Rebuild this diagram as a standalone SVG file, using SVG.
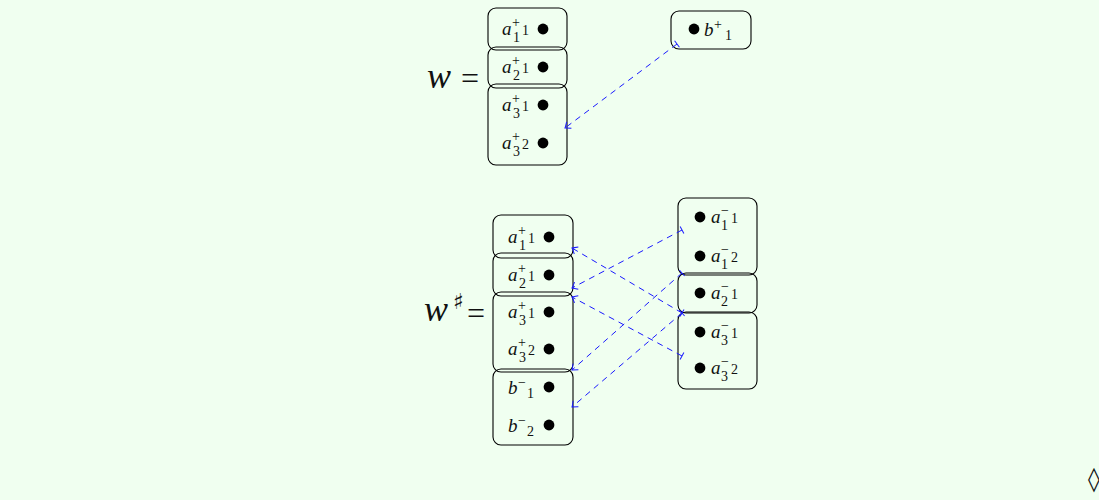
<svg xmlns="http://www.w3.org/2000/svg" width="1099" height="500" viewBox="0 0 1099 500">
<style>
.bg{fill:#F0FFF0}
.box{fill:none;stroke:#000;stroke-width:1.1}
.m{font-family:"Liberation Serif",serif;font-style:italic;font-size:19px;fill:#111}
.s{font-family:"Liberation Serif",serif;font-size:14px;fill:#111}
.big{font-family:"Liberation Serif",serif;font-style:italic;font-size:36px;fill:#111}
.eq{font-family:"Liberation Serif",serif;font-size:32px;fill:#111}
.sh{font-family:"DejaVu Serif",serif;font-size:22px;fill:#111}
.dot{fill:#000}
.cn{fill:none;stroke:#1a1aff;stroke-width:1;stroke-dasharray:6 5}
.mk{fill:none;stroke:#1a1aff;stroke-width:1}
</style>
<defs>
<marker id="head" markerUnits="userSpaceOnUse" markerWidth="12" markerHeight="12" refX="0" refY="0" viewBox="-6 -6 12 12" orient="auto" overflow="visible">
<path class="mk" d="M-5,-4 Q-1.5,-1 0,0 Q-1.5,1 -5,4"/>
</marker>
<marker id="tee" markerUnits="userSpaceOnUse" markerWidth="12" markerHeight="12" refX="0" refY="0" viewBox="-6 -6 12 12" orient="auto" overflow="visible">
<path class="mk" d="M0,-4 L0,4"/>
</marker>
</defs>
<rect class="bg" x="0" y="0" width="1099" height="500"/>

<g id="w-label">
<text class="big" x="427" y="88">w</text>
<text class="eq" x="461" y="89">=</text>
</g>

<g id="top-a1">
<rect class="box" x="488" y="8" width="79" height="42" rx="8"/>
<text class="m" x="502" y="35">a</text><text class="s" x="512" y="27">+</text><text class="s" x="513" y="42">1</text><text class="s" x="522" y="35">1</text>
<circle class="dot" cx="543" cy="29" r="5.4"/>
</g>
<g id="top-a2">
<rect class="box" x="488" y="47" width="79" height="41" rx="8"/>
<text class="m" x="502" y="73">a</text><text class="s" x="512" y="65">+</text><text class="s" x="513" y="80">2</text><text class="s" x="522" y="73">1</text>
<circle class="dot" cx="543" cy="67" r="5.4"/>
</g>
<g id="top-a3">
<rect class="box" x="488" y="84" width="79" height="81" rx="8"/>
<text class="m" x="502" y="111">a</text><text class="s" x="512" y="103">+</text><text class="s" x="513" y="118">3</text><text class="s" x="522" y="111">1</text>
<circle class="dot" cx="543" cy="105" r="5.4"/>
<text class="m" x="502" y="149">a</text><text class="s" x="512" y="141">+</text><text class="s" x="513" y="156">3</text><text class="s" x="522" y="149">2</text>
<circle class="dot" cx="543" cy="143" r="5.4"/>
</g>
<g id="top-b">
<rect class="box" x="671" y="11" width="80" height="38" rx="8"/>
<circle class="dot" cx="694" cy="29" r="5.4"/>
<text class="m" x="704" y="36">b</text><text class="s" x="714" y="29">+</text><text class="s" x="725" y="40">1</text>
</g>

<g id="wsharp-label">
<text class="big" x="424" y="321">w</text>
<text class="sh" x="453" y="309">♯</text>
<text class="eq" x="467" y="324">=</text>
</g>

<g id="bot-a1">
<rect class="box" x="493" y="215" width="80" height="43" rx="8"/>
<text class="m" x="508" y="243">a</text><text class="s" x="518" y="235">+</text><text class="s" x="519" y="250">1</text><text class="s" x="528" y="243">1</text>
<circle class="dot" cx="549" cy="237" r="5.4"/>
</g>
<g id="bot-a2">
<rect class="box" x="493" y="253" width="80" height="43" rx="8"/>
<text class="m" x="508" y="281">a</text><text class="s" x="518" y="273">+</text><text class="s" x="519" y="288">2</text><text class="s" x="528" y="281">1</text>
<circle class="dot" cx="549" cy="275" r="5.4"/>
</g>
<g id="bot-a3">
<rect class="box" x="493" y="292" width="80" height="80" rx="8"/>
<text class="m" x="508" y="318">a</text><text class="s" x="518" y="310">+</text><text class="s" x="519" y="325">3</text><text class="s" x="528" y="318">1</text>
<circle class="dot" cx="549" cy="312" r="5.4"/>
<text class="m" x="508" y="355">a</text><text class="s" x="518" y="347">+</text><text class="s" x="519" y="362">3</text><text class="s" x="528" y="355">2</text>
<circle class="dot" cx="549" cy="349" r="5.4"/>
</g>
<g id="bot-b">
<rect class="box" x="493" y="369" width="80" height="76" rx="8"/>
<text class="m" x="508" y="394">b</text><text class="s" x="518" y="387">−</text><text class="s" x="527" y="398">1</text>
<circle class="dot" cx="549" cy="387" r="5.4"/>
<text class="m" x="508" y="432">b</text><text class="s" x="518" y="425">−</text><text class="s" x="527" y="436">2</text>
<circle class="dot" cx="549" cy="425" r="5.4"/>
</g>

<g id="bot-am1">
<rect class="box" x="678" y="198" width="79" height="77" rx="8"/>
<circle class="dot" cx="700" cy="217" r="5.4"/>
<text class="m" x="711" y="223">a</text><text class="s" x="721" y="215">−</text><text class="s" x="721" y="230">1</text><text class="s" x="731" y="223">1</text>
<circle class="dot" cx="700" cy="256" r="5.4"/>
<text class="m" x="711" y="262">a</text><text class="s" x="721" y="254">−</text><text class="s" x="721" y="269">1</text><text class="s" x="731" y="262">2</text>
</g>
<g id="bot-am2">
<rect class="box" x="678" y="273" width="79" height="40" rx="8"/>
<circle class="dot" cx="700" cy="293" r="5.4"/>
<text class="m" x="711" y="299">a</text><text class="s" x="721" y="291">−</text><text class="s" x="721" y="306">2</text><text class="s" x="731" y="299">1</text>
</g>
<g id="bot-am3">
<rect class="box" x="678" y="312" width="79" height="77" rx="8"/>
<circle class="dot" cx="700" cy="332" r="5.4"/>
<text class="m" x="711" y="338">a</text><text class="s" x="721" y="330">−</text><text class="s" x="721" y="345">3</text><text class="s" x="731" y="338">1</text>
<circle class="dot" cx="700" cy="368" r="5.4"/>
<text class="m" x="711" y="374">a</text><text class="s" x="721" y="366">−</text><text class="s" x="721" y="381">3</text><text class="s" x="731" y="374">2</text>
</g>

<g id="connectors">
<line class="cn" x1="677" y1="44" x2="565" y2="128" marker-start="url(#tee)" marker-end="url(#head)"/>
<line class="cn" x1="682" y1="313" x2="572" y2="248" marker-start="url(#tee)" marker-end="url(#head)"/>
<line class="cn" x1="682" y1="230" x2="572" y2="288" marker-start="url(#tee)" marker-end="url(#head)"/>
<line class="cn" x1="682" y1="356" x2="572" y2="297" marker-start="url(#tee)" marker-end="url(#head)"/>
<line class="cn" x1="682" y1="273" x2="572" y2="370" marker-start="url(#tee)" marker-end="url(#head)"/>
<line class="cn" x1="682" y1="313" x2="572" y2="407" marker-start="url(#tee)" marker-end="url(#head)"/>
</g>

<text x="1088" y="487" style="font-family:'DejaVu Sans',sans-serif;font-size:24px;fill:#111">◊</text>
</svg>
